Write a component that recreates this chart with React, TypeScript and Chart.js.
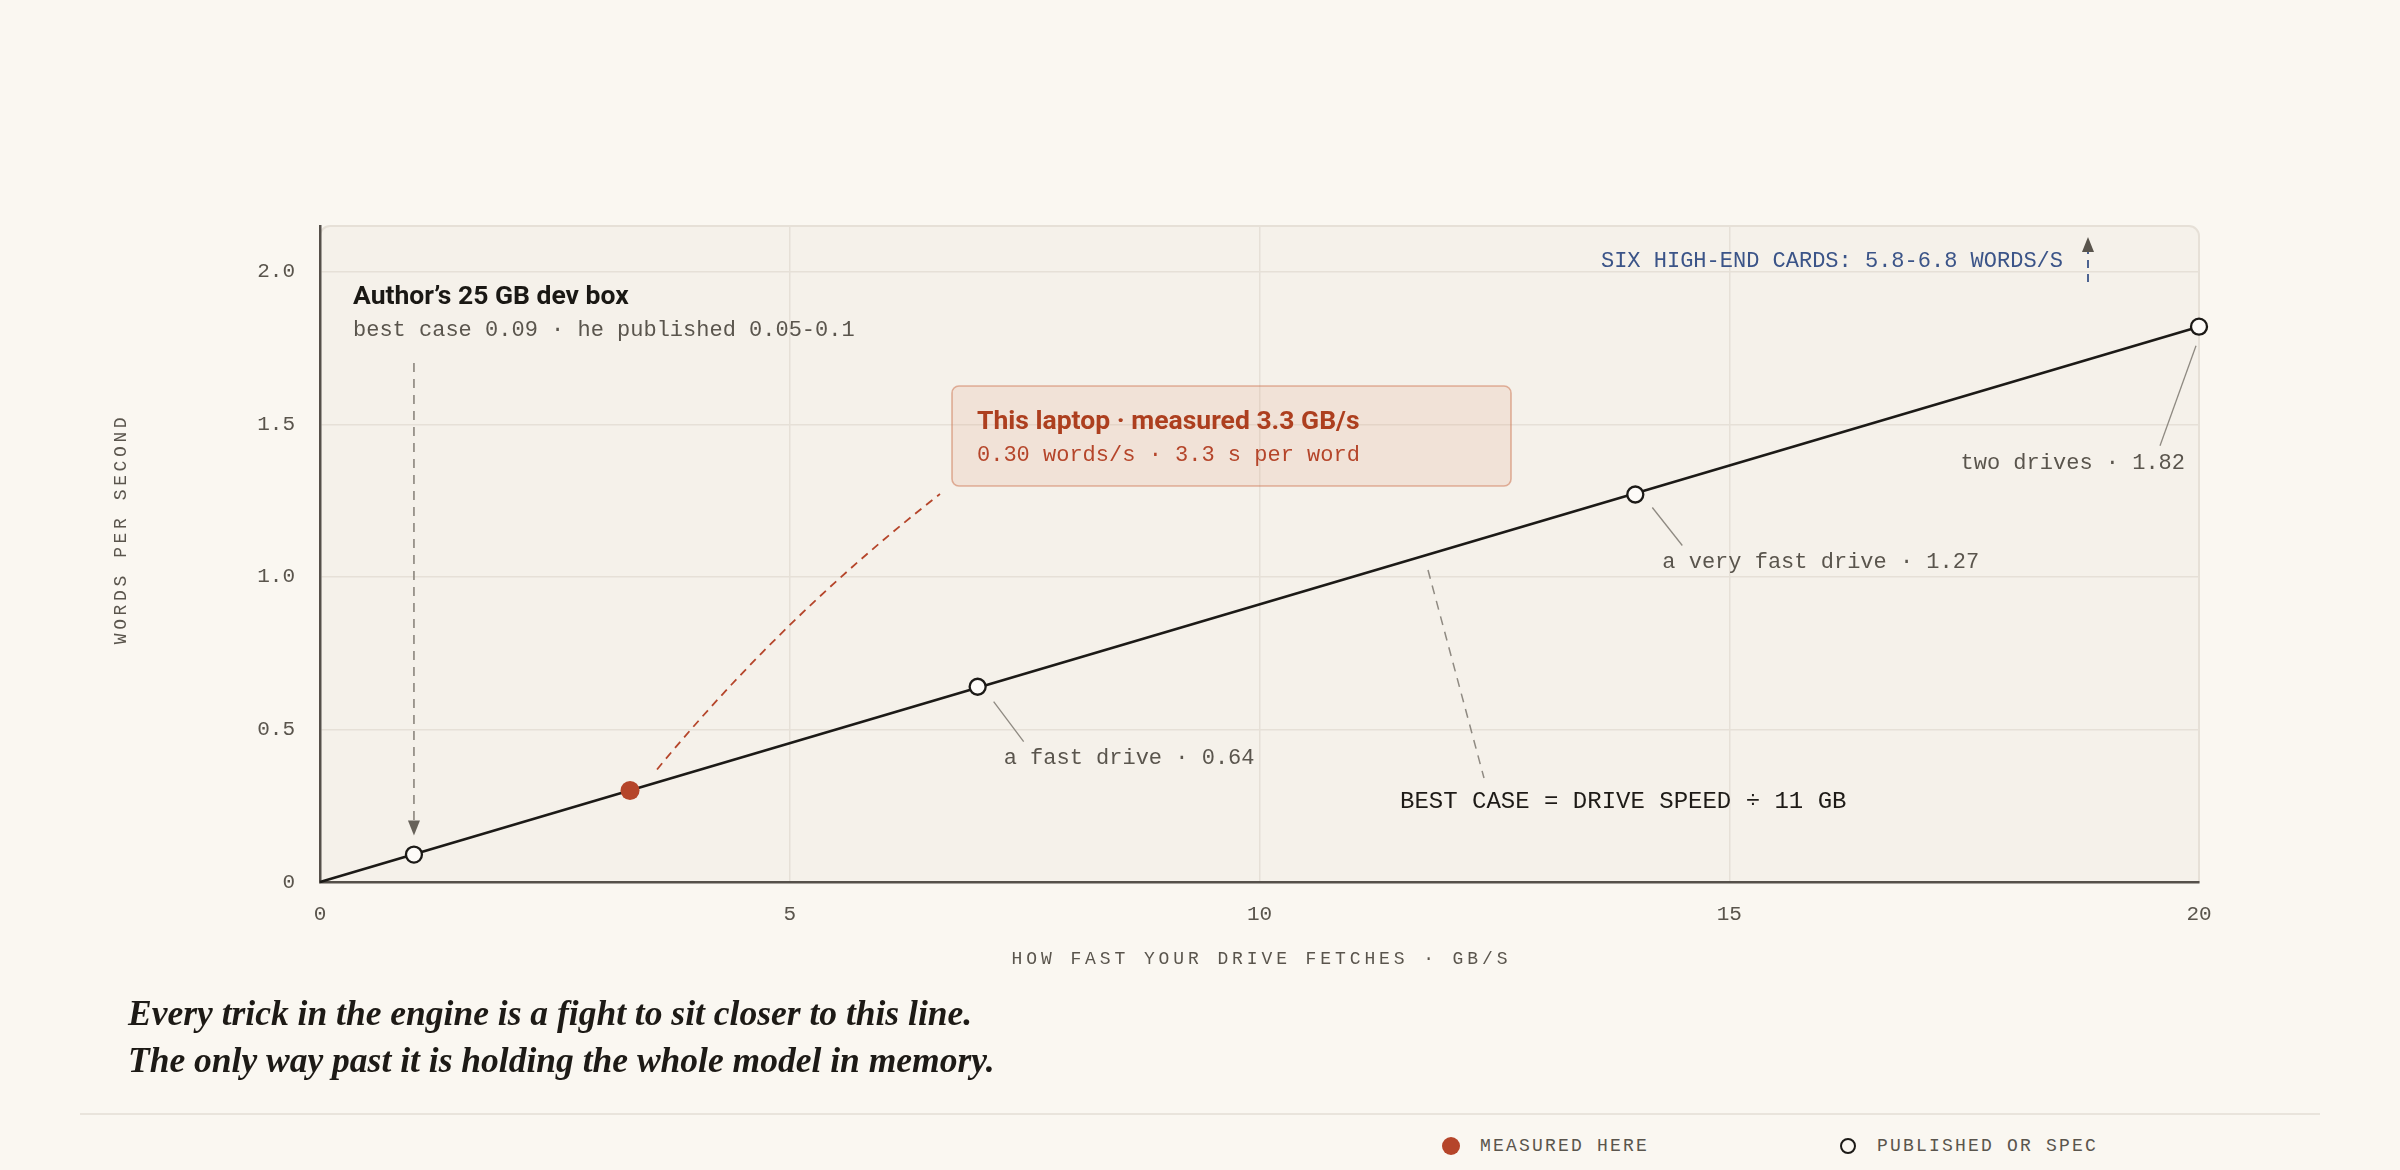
import React, { useEffect, useRef } from "react";
import { Chart, registerables } from "chart.js";

Chart.register(...registerables);

// ---------- data ----------
const X_MIN = 0;
const X_MAX = 20;
const Y_MIN = 0;
const Y_MAX = 2.15;
const X_TICKS = [0, 5, 10, 15, 20];
const Y_TICKS = [0, 0.5, 1.0, 1.5, 2.0];
const LINE_X = [0, 20];
const LINE_Y = [0, 1.82];
const PUBLISHED_X = [1, 7, 14, 20];
const PUBLISHED_Y = [0.09, 0.64, 1.27, 1.82];
const PUBLISHED_LABELS = ["", "a fast drive · 0.64", "a very fast drive · 1.27", "two drives · 1.82"];
const MEASURED_X = [3.3];
const MEASURED_Y = [0.3];
const X_TITLE = "HOW FAST YOUR DRIVE FETCHES · GB/S";
const Y_TITLE = "WORDS PER SECOND";
const AUTHOR_TITLE = "Author’s 25 GB dev box";
const AUTHOR_SUB = "best case 0.09 · he published 0.05-0.1";
const LAPTOP_TITLE = "This laptop · measured 3.3 GB/s";
const LAPTOP_SUB = "0.30 words/s · 3.3 s per word";
const FORMULA = "BEST CASE = DRIVE SPEED ÷ 11 GB";
const CARDS = "SIX HIGH-END CARDS: 5.8-6.8 WORDS/S";
const FOOTER_LINES = [
  "Every trick in the engine is a fight to sit closer to this line.",
  "The only way past it is holding the whole model in memory.",
];
const LEGEND_LABELS = ["MEASURED HERE", "PUBLISHED OR SPEC"];

// ---------- styles ----------
const MONO = '"Liberation Mono", "DejaVu Sans Mono", monospace';
const SANS = 'Roboto, "Noto Sans", sans-serif';
const SERIF = '"Liberation Serif", "DejaVu Serif", serif';
const PAGE_BG = "#faf7f1";
const PLOT_BG = "#f5f1ea";
const GRID = "#e6e0d7";
const AXIS = "#55504a";
const INK = "#1c1a17";
const MUTED = "#5a554d";
const LEADER = "#8f8a82";
const RED = "#b5452a";
const BLUE = "#3b5488";

function drawText(
  ctx: CanvasRenderingContext2D,
  s: string,
  x: number,
  y: number,
  font: string,
  color: string,
  align: CanvasTextAlign = "left",
  spacing = "0px"
) {
  ctx.save();
  ctx.font = font;
  ctx.fillStyle = color;
  ctx.textAlign = align;
  ctx.textBaseline = "middle";
  (ctx as any).letterSpacing = spacing;
  ctx.fillText(s, x, y);
  ctx.restore();
}

function line(
  ctx: CanvasRenderingContext2D,
  x1: number,
  y1: number,
  x2: number,
  y2: number,
  color: string,
  width: number,
  dash: number[] = []
) {
  ctx.save();
  ctx.strokeStyle = color;
  ctx.lineWidth = width;
  ctx.setLineDash(dash);
  ctx.beginPath();
  ctx.moveTo(x1, y1);
  ctx.lineTo(x2, y2);
  ctx.stroke();
  ctx.restore();
}

function tri(ctx: CanvasRenderingContext2D, pts: number[][], color: string) {
  ctx.save();
  ctx.fillStyle = color;
  ctx.beginPath();
  ctx.moveTo(pts[0][0], pts[0][1]);
  ctx.lineTo(pts[1][0], pts[1][1]);
  ctx.lineTo(pts[2][0], pts[2][1]);
  ctx.closePath();
  ctx.fill();
  ctx.restore();
}

const plotBgPlugin = {
  id: "plotBg",
  beforeDraw(chart: any) {
    const { ctx, chartArea: a } = chart;
    ctx.save();
    ctx.beginPath();
    (ctx as any).roundRect(a.left, a.top, a.right - a.left, a.bottom - a.top, [10, 10, 0, 0]);
    ctx.fillStyle = PLOT_BG;
    ctx.fill();
    ctx.strokeStyle = GRID;
    ctx.lineWidth = 2;
    ctx.stroke();
    ctx.restore();
  },
};

const annotationPlugin = {
  id: "annotations",
  afterDatasetsDraw(chart: any) {
    const { ctx, chartArea: a } = chart;
    const xs = chart.scales.x;
    const ys = chart.scales.y;
    const px = (v: number) => xs.getPixelForValue(v);
    const py = (v: number) => ys.getPixelForValue(v);
    const mono22 = `22px ${MONO}`;

    // author's dev box
    const ax = px(PUBLISHED_X[0]);
    const ay = py(PUBLISHED_Y[0]);
    drawText(ctx, AUTHOR_TITLE, a.left + 33, a.top + 71, `700 26.5px ${SANS}`, "#1a1814");
    drawText(ctx, AUTHOR_SUB, a.left + 33, a.top + 104, mono22, MUTED);
    line(ctx, ax, a.top + 137, ax, ay - 34, "#8a857d", 1.6, [9, 7]);
    tri(ctx, [[ax - 6, ay - 34], [ax + 6, ay - 34], [ax, ay - 19]], "#67625a");

    // laptop callout
    const mx = px(MEASURED_X[0]);
    const my = py(MEASURED_Y[0]);
    const bx = a.left + 632;
    const by = a.top + 160;
    const bw = 559;
    const bh = 100;
    ctx.save();
    ctx.setLineDash([8, 6]);
    ctx.strokeStyle = RED;
    ctx.lineWidth = 1.8;
    ctx.beginPath();
    ctx.moveTo(mx + 27, my - 21);
    ctx.quadraticCurveTo(mx + 153, my - 174, bx - 12, by + bh + 8);
    ctx.stroke();
    ctx.restore();

    ctx.save();
    ctx.beginPath();
    (ctx as any).roundRect(bx, by, bw, bh, 7);
    ctx.fillStyle = "rgba(214,130,95,0.13)";
    ctx.fill();
    ctx.strokeStyle = "rgba(205,120,85,0.55)";
    ctx.lineWidth = 1.6;
    ctx.stroke();
    ctx.restore();
    drawText(ctx, LAPTOP_TITLE, bx + 25, by + 36, `700 26.5px ${SANS}`, "#ad3f1f");
    drawText(ctx, LAPTOP_SUB, bx + 25, by + 69, mono22, RED);

    // point labels
    const p1x = px(PUBLISHED_X[1]);
    const p1y = py(PUBLISHED_Y[1]);
    line(ctx, p1x + 16, p1y + 15, p1x + 46, p1y + 55, LEADER, 1.3);
    drawText(ctx, PUBLISHED_LABELS[1], p1x + 26, p1y + 71, mono22, MUTED);

    const p2x = px(PUBLISHED_X[2]);
    const p2y = py(PUBLISHED_Y[2]);
    line(ctx, p2x + 17, p2y + 13, p2x + 47, p2y + 51, LEADER, 1.3);
    drawText(ctx, PUBLISHED_LABELS[2], p2x + 27, p2y + 68, mono22, MUTED);

    const p3x = px(PUBLISHED_X[3]);
    const p3y = py(PUBLISHED_Y[3]);
    line(ctx, p3x - 3, p3y + 19, p3x - 39, p3y + 119, LEADER, 1.3);
    drawText(ctx, PUBLISHED_LABELS[3], p3x - 14, p3y + 136, mono22, MUTED, "right");

    // formula
    line(ctx, a.left + 1108, a.top + 344, a.left + 1164, a.top + 552, LEADER, 1.5, [9, 7]);
    drawText(ctx, FORMULA, a.left + 1080, a.top + 576, `24px ${MONO}`, "#1e1b17");

    // high-end cards
    drawText(ctx, CARDS, a.left + 1743, a.top + 35, mono22, BLUE, "right");
    const cx = a.left + 1768;
    line(ctx, cx, a.top + 56, cx, a.top + 26, BLUE, 1.8, [8, 6]);
    tri(ctx, [[cx - 6, a.top + 26], [cx + 6, a.top + 26], [cx, a.top + 11]], "#5a554d");
  },
  afterDraw(chart: any) {
    const { ctx, chartArea: a } = chart;
    // axis titles
    drawText(ctx, X_TITLE, (a.left + a.right) / 2 + 2, a.bottom + 77, `18px ${MONO}`, MUTED, "center", "3.9px");
    ctx.save();
    ctx.translate(121, a.top + 305);
    ctx.rotate(-Math.PI / 2);
    drawText(ctx, Y_TITLE, 2, 0, `18px ${MONO}`, MUTED, "center", "3.6px");
    ctx.restore();
  },
};

function ChartCanvas() {
  const ref = useRef<HTMLCanvasElement | null>(null);
  useEffect(() => {
    if (!ref.current) return;
    const toPts = (xs: number[], ys: number[]) => xs.map((x, i) => ({ x, y: ys[i] }));
    const chart = new Chart(ref.current, {
      type: "scatter",
      data: {
        datasets: [
          {
            label: "best case",
            data: toPts(LINE_X, LINE_Y),
            showLine: true,
            borderColor: INK,
            borderWidth: 2.6,
            pointRadius: 0,
            order: 3,
            clip: false as any,
          },
          {
            label: "published or spec",
            data: toPts(PUBLISHED_X, PUBLISHED_Y),
            pointRadius: 8,
            pointBorderWidth: 2.3,
            pointBackgroundColor: "#fdfbf8",
            pointBorderColor: INK,
            order: 1,
            clip: false as any,
          },
          {
            label: "measured here",
            data: toPts(MEASURED_X, MEASURED_Y),
            pointRadius: 9.5,
            pointBorderWidth: 0,
            pointBackgroundColor: RED,
            pointBorderColor: RED,
            order: 1,
            clip: false as any,
          },
        ],
      },
      options: {
        animation: false,
        responsive: false,
        devicePixelRatio: 1,
        layout: { padding: { left: 0, right: 201, top: 226, bottom: 18 } },
        plugins: { legend: { display: false }, tooltip: { enabled: false } },
        scales: {
          x: {
            type: "linear",
            min: X_MIN,
            max: X_MAX,
            afterFit: (s: any) => {
              s.height = 100;
            },
            afterBuildTicks: (s: any) => {
              s.ticks = X_TICKS.map((v) => ({ value: v }));
            },
            ticks: {
              padding: 20,
              color: MUTED,
              font: { family: MONO, size: 21 },
              callback: (v: any) => String(v),
            },
            grid: {
              drawTicks: false,
              color: (c: any) => (c.tick && (c.tick.value === X_MIN || c.tick.value === X_MAX) ? "rgba(0,0,0,0)" : GRID),
              lineWidth: 1.5,
            },
            border: { display: true, color: AXIS, width: 2.5 },
          },
          y: {
            type: "linear",
            min: Y_MIN,
            max: Y_MAX,
            afterFit: (s: any) => {
              s.width = 320;
            },
            afterBuildTicks: (s: any) => {
              s.ticks = Y_TICKS.map((v) => ({ value: v }));
            },
            ticks: {
              padding: 25,
              color: MUTED,
              font: { family: MONO, size: 21 },
              callback: (v: any) => (v === 0 ? "0" : Number(v).toFixed(1)),
            },
            grid: {
              drawTicks: false,
              color: (c: any) => (c.tick && c.tick.value === Y_MIN ? "rgba(0,0,0,0)" : GRID),
              lineWidth: 1.5,
            },
            border: { display: true, color: AXIS, width: 2.5 },
          },
        },
      },
      plugins: [plotBgPlugin, annotationPlugin],
    });
    return () => chart.destroy();
  }, []);
  return (
    <canvas
      ref={ref}
      width={2400}
      height={1000}
      style={{ position: "absolute", left: 0, top: 0, width: 2400, height: 1000 }}
    />
  );
}

export default function App() {
  return (
    <div
      style={{
        position: "fixed",
        left: 0,
        top: 0,
        width: 2400,
        height: 1170,
        background: PAGE_BG,
        overflow: "hidden",
      }}
    >
      <ChartCanvas />
      <div
        style={{
          position: "absolute",
          left: 128,
          top: 990,
          fontFamily: SERIF,
          fontStyle: "italic",
          fontWeight: 700,
          fontSize: 35.5,
          lineHeight: "47px",
          color: "#1d1a16",
          whiteSpace: "nowrap",
        }}
      >
        {FOOTER_LINES.map((l, i) => (
          <div key={i}>{l}</div>
        ))}
      </div>
      <div style={{ position: "absolute", left: 80, top: 1113, width: 2240, height: 2, background: "#e9e4dc" }} />
      <div
        style={{
          position: "absolute",
          left: 1442,
          top: 1137,
          width: 18,
          height: 18,
          borderRadius: "50%",
          background: RED,
        }}
      />
      <div
        style={{
          position: "absolute",
          left: 1480,
          top: 1134,
          height: 24,
          lineHeight: "24px",
          fontFamily: MONO,
          fontSize: 18,
          letterSpacing: "2.2px",
          color: MUTED,
          whiteSpace: "nowrap",
        }}
      >
        {LEGEND_LABELS[0]}
      </div>
      <div
        style={{
          position: "absolute",
          left: 1840,
          top: 1138,
          width: 12,
          height: 12,
          borderRadius: "50%",
          border: `2.5px solid ${INK}`,
          background: "transparent",
        }}
      />
      <div
        style={{
          position: "absolute",
          left: 1877,
          top: 1134,
          height: 24,
          lineHeight: "24px",
          fontFamily: MONO,
          fontSize: 18,
          letterSpacing: "2.2px",
          color: MUTED,
          whiteSpace: "nowrap",
        }}
      >
        {LEGEND_LABELS[1]}
      </div>
    </div>
  );
}
